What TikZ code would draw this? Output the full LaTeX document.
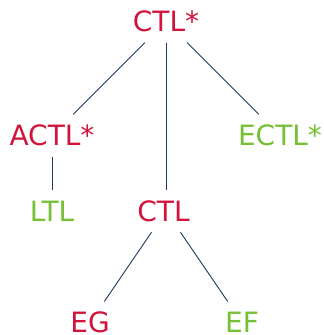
\documentclass[tikz,border=0pt]{standalone}
\usepackage{fontspec}
\setmainfont{DejaVu Sans}
\definecolor{logred}{RGB}{210,20,60}
\definecolor{loggreen}{RGB}{118,192,52}
\definecolor{edgeblue}{RGB}{30,55,95}
\begin{document}
\begin{tikzpicture}[x=1pt,y=-1pt,
  logic/.style={rectangle,inner sep=0pt,minimum height=42pt,text height=20pt,text depth=0pt,font=\fontsize{28}{30}\selectfont},
  leaf/.style={minimum height=20pt},
  redlogic/.style={logic,text=logred},
  greenlogic/.style={logic,text=loggreen},
  link/.style={draw=edgeblue,line width=0.9pt}]
\useasboundingbox (0,0) rectangle (324,335);
\node[redlogic]   (ctlstar)  at (166,21.5)  {CTL*};
\node[redlogic]   (actlstar) at (52,135.5)  {ACTL*};
\node[greenlogic] (ectlstar) at (280,135.5) {ECTL*};
\node[greenlogic] (ltl)      at (52,211)  {LTL};
\node[redlogic]   (ctl)      at (166,211) {CTL\hspace*{5pt}};
\node[redlogic,leaf]   (eg)  at (90,322.5)  {EG};
\node[greenlogic,leaf] (ef)  at (242,322.5) {EF};
\draw[link] (ctlstar) -- (actlstar);
\draw[link] (ctlstar) -- (ctl);
\draw[link] (ctlstar) -- (ectlstar);
\draw[link] (actlstar) -- (ltl);
\draw[link,shorten >=13pt] (ctl) -- (eg);
\draw[link,shorten >=13pt] (ctl) -- (ef);
\end{tikzpicture}
\end{document}
